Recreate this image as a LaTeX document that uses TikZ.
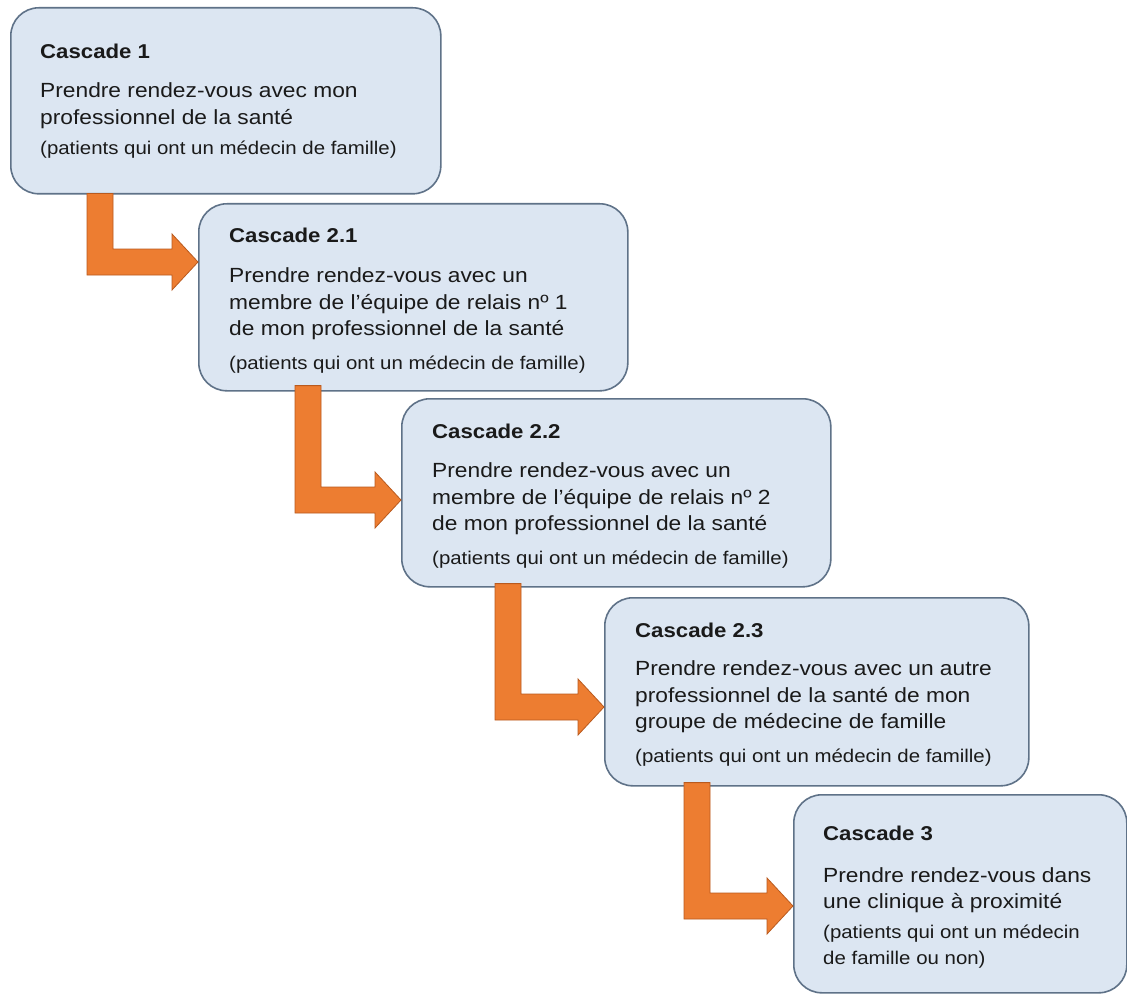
\documentclass[tikz,border=0pt]{standalone}
\usepackage{fontspec}
\setmainfont{Liberation Sans}[FakeStretch=1.11]
\usetikzlibrary{calc}
\definecolor{boxfill}{HTML}{DCE6F2}
\definecolor{boxline}{HTML}{5F7288}
\definecolor{arrfill}{HTML}{ED7D31}
\definecolor{arrline}{HTML}{B95A1E}
\definecolor{txt}{HTML}{1A1A1A}
\tikzset{
  box/.style={draw=boxline, fill=boxfill, line width=1.6pt, rounded corners=28pt, anchor=north west, inner sep=0pt},
  ttl/.style={anchor=base west, inner sep=0pt, text=txt, font=\fontsize{20}{24}\selectfont\bfseries},
  bod/.style={anchor=base west, inner sep=0pt, text=txt, font=\fontsize{20.5}{25}\selectfont},
  sub/.style={anchor=base west, inner sep=0pt, text=txt, font=\fontsize{18.4}{22}\selectfont},
  casarr/.style={fill=arrfill, draw=arrline, line width=0.8pt, line join=miter}
}
% #1 stem-top coordinate, #2 tip coordinate
\newcommand\casarrow[2]{%
  \path[casarr] let \p1=(#1), \p2=(#2) in
    (\x1-13pt,\y1) -- (\x1+13pt,\y1) -- (\x1+13pt,\y2+13pt) -- (\x2-26pt,\y2+13pt)
    -- (\x2-26pt,\y2+28pt) -- (\x2,\y2) -- (\x2-26pt,\y2-28pt) -- (\x2-26pt,\y2-13pt)
    -- (\x1-13pt,\y2-13pt) -- cycle;}
\begin{document}
\begin{tikzpicture}[x=1pt,y=-1pt]
\useasboundingbox[fill=white] (0,0) rectangle (1127,995);
% boxes
\node[box, minimum width=430pt, minimum height=186pt] (b1) at (10,7) {};
\node[box, minimum width=429pt, minimum height=187pt] (b2) at (198,203) {};
\node[box, minimum width=429pt, minimum height=188pt] (b3) at (401,398) {};
\node[box, minimum width=424pt, minimum height=188pt] (b4) at (604,597) {};
\node[box, minimum width=333pt, minimum height=198pt] (b5) at (793,794) {};
% texts box 1
\node[ttl] (b1t) at (40,59) {Cascade 1};
\node[bod] (b1a) at (40,98) {Prendre rendez-vous avec mon};
\node[bod] (b1b) at (40,125) {professionnel de la santé};
\node[sub] (b1s) at (40,155) {(patients qui ont un médecin de famille)};
% box 2
\node[ttl] (b2t) at (229,243) {Cascade 2.1};
\node[bod] (b2a) at (229,282) {Prendre rendez-vous avec un};
\node[bod] (b2b) at (229,309) {membre de l’équipe de relais nº 1};
\node[bod] (b2c) at (229,335) {de mon professionnel de la santé};
\node[sub] (b2s) at (229,369) {(patients qui ont un médecin de famille)};
% box 3
\node[ttl] (b3t) at (432,438) {Cascade 2.2};
\node[bod] (b3a) at (432,477) {Prendre rendez-vous avec un};
\node[bod] (b3b) at (432,504) {membre de l’équipe de relais nº 2};
\node[bod] (b3c) at (432,530) {de mon professionnel de la santé};
\node[sub] (b3s) at (432,564) {(patients qui ont un médecin de famille)};
% box 4
\node[ttl] (b4t) at (635,637) {Cascade 2.3};
\node[bod] (b4a) at (635,675) {Prendre rendez-vous avec un autre};
\node[bod] (b4b) at (635,702) {professionnel de la santé de mon};
\node[bod] (b4c) at (635,728) {groupe de médecine de famille};
\node[sub] (b4s) at (635,762) {(patients qui ont un médecin de famille)};
% box 5
\node[ttl] (b5t) at (823,840) {Cascade 3};
\node[bod] (b5a) at (823,882) {Prendre rendez-vous dans};
\node[bod] (b5b) at (823,908) {une clinique à proximité};
\node[sub] (b5s) at (823,938) {(patients qui ont un médecin};
\node[sub] (b5c) at (823,964) {de famille ou non)};
% arrow anchor coordinates
\coordinate (a1s) at ($(b1.south west)+(90,-1)$);
\coordinate (a1t) at ($(b2.north west)+(0,59)$);
\coordinate (a2s) at ($(b2.south west)+(110,-6)$);
\coordinate (a2t) at ($(b3.north west)+(0,102)$);
\coordinate (a3s) at ($(b3.south west)+(107,-4)$);
\coordinate (a3t) at ($(b4.north west)+(0,110)$);
\coordinate (a4s) at ($(b4.south west)+(93,-4)$);
\coordinate (a4t) at ($(b5.north west)+(0,112)$);
\casarrow{a1s}{a1t}
\casarrow{a2s}{a2t}
\casarrow{a3s}{a3t}
\casarrow{a4s}{a4t}
\end{tikzpicture}
\end{document}
